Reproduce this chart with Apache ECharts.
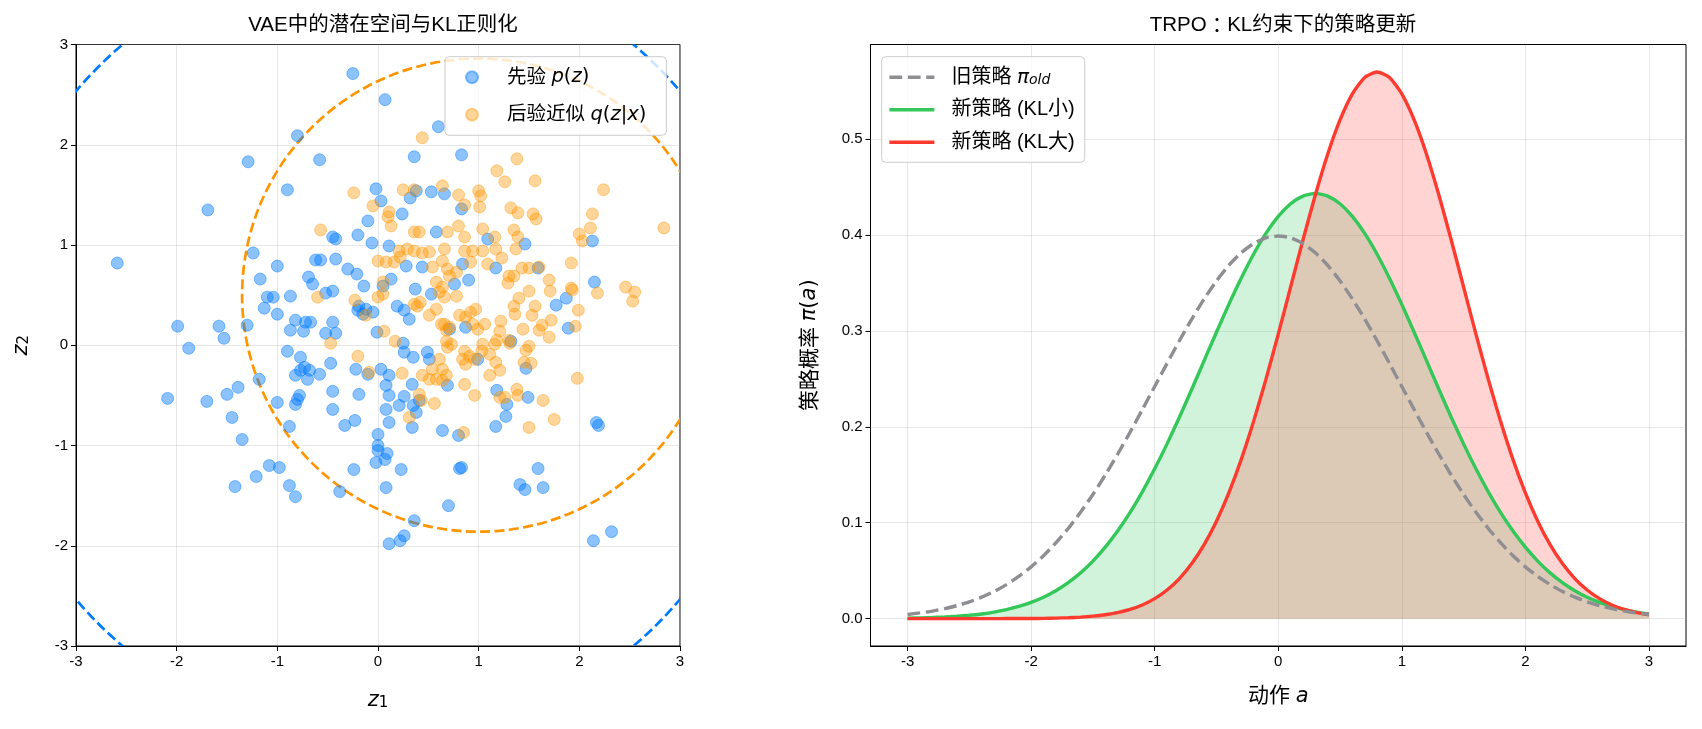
<!DOCTYPE html>
<html><head><meta charset="utf-8">
<script src="https://cdn.jsdelivr.net/npm/echarts@6/dist/echarts.min.js"></script>
<style>html,body{margin:0;padding:0;background:#fff}#c{width:1702px;height:729px}</style>
</head><body><div id="c"></div>
<script>
// ---------- data ----------
const priorPoints = [
[-1.29,1.83],[-1.69,1.35],[-0.25,2.71],[0.07,2.45],[-0.80,2.09],[0.60,2.18],[-0.58,1.85],[0.36,1.88],[0.83,1.90],
[-0.90,1.55],[-0.02,1.56],[0.03,1.44],[0.24,1.31],[-0.10,1.24],[-0.45,1.08],[-0.42,1.06],[-0.20,1.10],[-0.06,1.02],
[0.11,0.99],[0.38,1.54],[0.32,1.47],[0.53,1.53],[0.66,1.51],[0.83,1.36],[0.58,1.13],[2.13,1.04],[1.46,1.01],[1.09,1.06],
[-2.59,0.82],[-1.24,0.92],[-1.17,0.66],[-1.10,0.48],[-1.04,0.48],[-1.13,0.37],[-1.00,0.31],[-1.00,0.79],[-1.99,0.19],
[-1.58,0.19],[-1.53,0.07],[-1.30,0.20],[-1.88,-0.03],[-1.18,-0.34],[-1.39,-0.42],[-1.50,-0.49],[-2.09,-0.53],[-1.70,-0.56],
[-1.45,-0.72],[-1.35,-0.94],[-1.00,-0.57],[-1.08,-1.20],[-1.21,-1.31],[-1.42,-1.41],[-0.98,-1.22],[-0.88,-1.40],[-0.82,-1.51],
[-0.24,-1.24],[-0.38,-1.46],[-0.02,-1.17],[0.07,-1.14],[0.00,-1.05],[0.09,-1.08],[0.00,-1.00],[0.23,-1.24],[0.08,-1.42],
[0.83,-1.22],[0.81,-1.23],[0.70,-1.60],[0.36,-1.75],[0.26,-1.90],[0.22,-1.95],[0.11,-1.98],[1.59,-1.23],[1.41,-1.39],
[1.46,-1.44],[1.64,-1.42],[2.14,-1.95],[2.32,-1.86],[1.17,0.77],[1.59,0.77],[2.15,0.63],[1.87,0.47],[1.77,0.40],[1.89,0.17],
[1.32,0.04],[1.47,-0.23],[0.99,-0.14],[1.18,-0.45],[1.49,-0.52],[1.28,-0.59],[1.27,-0.71],[1.17,-0.81],[2.17,-0.77],[2.19,-0.80],
[-0.62,0.85],[-0.57,0.85],[-0.42,0.86],[-0.30,0.76],[-0.21,0.71],[-0.69,0.68],[-0.65,0.61],[-0.14,0.59],[0.13,0.66],
[0.05,0.59],[0.37,0.56],[-0.52,0.52],[-0.45,0.54],[-0.87,0.49],[0.53,0.51],[-0.19,0.39],[-0.12,0.36],[-0.20,0.35],
[-0.15,0.31],[-0.05,0.33],[0.19,0.39],[0.26,0.35],[0.31,0.26],[-0.82,0.25],[-0.72,0.23],[-0.67,0.23],[-0.87,0.15],
[-0.74,0.14],[-0.45,0.23],[-0.52,0.12],[-0.42,0.12],[-0.01,0.13],[0.25,0.02],[0.26,-0.07],[0.35,-0.12],[-0.90,-0.06],
[-0.77,-0.12],[0.49,-0.07],[0.51,-0.14],[-0.82,-0.30],[-0.77,-0.25],[-0.68,-0.25],[-0.58,-0.29],[-0.70,-0.34],[-0.73,-0.22],
[-0.47,-0.18],[-0.22,-0.24],[-0.10,-0.29],[0.03,-0.24],[0.11,-0.30],[0.08,-0.40],[0.11,-0.50],[0.34,-0.39],[0.69,-0.40],
[-0.45,-0.46],[-0.19,-0.49],[-0.78,-0.50],[-0.82,-0.59],[-0.80,-0.54],[-0.45,-0.64],[0.08,-0.64],[0.11,-0.77],[0.21,-0.60],
[0.26,-0.51],[0.35,-0.60],[0.38,-0.67],[0.41,-0.55],[-0.33,-0.80],[-0.23,-0.75],[-0.88,-0.81],[0.00,-0.89],[0.34,-0.82],
[0.64,-0.85],[0.80,-0.90],[0.84,0.81],[0.76,0.61],[0.90,0.65],[0.28,0.79],[0.44,0.78],[0.71,0.16],[0.87,0.18]
];
const posteriorPoints = [
[0.44,2.07],[-0.24,1.52],[-0.05,1.39],[0.11,1.33],[0.10,1.28],[0.13,1.19],[-0.57,1.15],[0.25,1.55],[0.36,1.55],
[0.64,1.59],[0.80,1.50],[0.86,1.40],[0.36,1.13],[0.41,1.13],[0.69,1.13],[0.80,1.19],[0.86,1.08],
[1.38,1.86],[1.18,1.74],[1.26,1.63],[1.56,1.64],[2.24,1.55],[1.00,1.54],[1.02,1.49],[1.01,1.38],[1.32,1.37],[1.39,1.32],
[1.54,1.31],[1.57,1.26],[2.13,1.31],[2.11,1.17],[2.84,1.17],[1.35,1.15],[1.39,1.08],[1.04,1.16],[1.16,1.08],[2.00,1.11],[2.03,1.04],
[1.37,0.96],[1.17,0.96],[1.23,0.87],[1.04,0.94],[1.09,0.81],[1.43,0.77],[1.50,0.77],[1.60,0.78],[1.92,0.82],[1.30,0.69],
[1.35,0.69],[1.29,0.62],[1.70,0.65],[1.71,0.54],[1.92,0.57],[1.93,0.55],[2.18,0.52],[2.46,0.58],[2.55,0.53],[2.53,0.44],
[1.40,0.47],[1.50,0.54],[1.35,0.39],[1.36,0.31],[1.56,0.39],[1.53,0.30],[1.99,0.35],[1.72,0.25],[1.63,0.20],[1.60,0.15],
[1.70,0.08],[1.96,0.19],[1.44,0.16],[1.22,0.24],[1.21,0.14],[1.06,0.21],[0.99,0.16],[1.18,0.05],[1.30,0.05],[1.31,0.02],
[1.16,0.01],[1.04,0.01],[1.11,-0.09],[1.03,-0.06],[1.50,-0.01],[1.47,-0.05],[1.45,-0.17],[1.52,-0.18],[1.17,-0.17],
[1.21,-0.25],[1.11,-0.30],[1.98,-0.33],[1.21,-0.52],[1.26,-0.52],[1.38,-0.44],[1.39,-0.50],[1.64,-0.55],[1.75,-0.74],
[1.50,-0.82],[0.96,-0.50],
[0.21,0.94],[0.29,0.96],[0.36,0.94],[0.44,0.92],[0.51,0.93],[0.66,0.96],[0.86,0.94],[0.94,0.94],[0.00,0.84],[0.08,0.83],
[0.16,0.83],[0.22,0.88],[0.54,0.78],[0.64,0.84],[0.69,0.76],[0.78,0.73],[0.71,0.69],[0.92,0.83],[0.05,0.63],[0.00,0.48],
[0.05,0.51],[-0.60,0.48],[-0.23,0.45],[-0.12,0.30],[0.58,0.63],[0.64,0.58],[0.61,0.53],[0.66,0.48],[0.78,0.49],[0.36,0.41],
[0.39,0.39],[0.42,0.43],[0.51,0.30],[0.58,0.36],[0.63,0.21],[0.68,0.15],[0.71,0.18],[0.66,0.21],[0.81,0.30],[0.87,0.28],
[0.92,0.33],[0.97,0.36],[0.94,0.21],[0.06,0.14],[-0.47,0.02],[0.17,0.04],[0.68,0.04],[0.69,-0.02],[0.73,0.01],[-0.20,-0.11],
[0.86,-0.06],[0.91,-0.11],[0.84,-0.14],[0.96,-0.14],[0.87,-0.19],[0.61,-0.14],[0.64,-0.24],[0.54,-0.24],[0.68,-0.30],
[0.44,-0.30],[0.51,-0.34],[0.58,-0.34],[0.64,-0.35],[-0.09,-0.27],[0.24,-0.28],[0.86,-0.39],[0.41,-0.49],[0.43,-0.55],
[0.56,-0.58],[0.31,-0.72],[0.85,-0.87]
];
// dashed reference circles: [centre z1, centre z2, radius]
const priorCircle = [[0, 0, 3.92]];
const posteriorCircle = [[1.0, 0.5, 2.35]];
const zTicks = [-3, -2, -1, 0, 1, 2, 3];

const actionA = [-3.0,-2.9,-2.8,-2.7,-2.6,-2.5,-2.4,-2.3,-2.2,-2.1,-2.0,-1.9,-1.8,-1.7,-1.6,-1.5,-1.4,-1.3,-1.2,-1.1,
                 -1.0,-0.9,-0.8,-0.7,-0.6,-0.5,-0.4,-0.3,-0.2,-0.1,0.0,0.1,0.2,0.3,0.4,0.5,0.6,0.7,0.8,0.9,
                 1.0,1.1,1.2,1.3,1.4,1.5,1.6,1.7,1.8,1.9,2.0,2.1,2.2,2.3,2.4,2.5,2.6,2.7,2.8,2.9,3.0];
const piOld   = [0.0044,0.0060,0.0079,0.0104,0.0136,0.0175,0.0224,0.0283,0.0355,0.0440,0.0540,0.0656,0.0790,0.0940,0.1109,
                 0.1295,0.1497,0.1714,0.1942,0.2179,0.2420,0.2661,0.2897,0.3123,0.3332,0.3521,0.3683,0.3814,0.3910,0.3970,
                 0.3989,0.3970,0.3910,0.3814,0.3683,0.3521,0.3332,0.3123,0.2897,0.2661,0.2420,0.2179,0.1942,0.1714,0.1497,
                 0.1295,0.1109,0.0940,0.0790,0.0656,0.0540,0.0440,0.0355,0.0283,0.0224,0.0175,0.0136,0.0104,0.0079,0.0060,0.0044];
const piSmall = [0.0005,0.0008,0.0012,0.0017,0.0025,0.0035,0.0049,0.0068,0.0094,0.0127,0.0169,0.0223,0.0291,0.0375,0.0477,
                 0.0600,0.0745,0.0913,0.1105,0.1322,0.1562,0.1822,0.2100,0.2391,0.2689,0.2986,0.3276,0.3549,0.3799,0.4016,
                 0.4193,0.4325,0.4405,0.4433,0.4405,0.4325,0.4193,0.4016,0.3799,0.3549,0.3276,0.2986,0.2689,0.2391,0.2100,
                 0.1822,0.1562,0.1322,0.1105,0.0913,0.0745,0.0600,0.0477,0.0375,0.0291,0.0223,0.0169,0.0127,0.0094,0.0068,0.0049];
const piLarge = [0.0000,0.0000,0.0000,0.0000,0.0000,0.0000,0.0000,0.0000,0.0001,0.0001,0.0002,0.0003,0.0006,0.0010,0.0016,
                 0.0026,0.0041,0.0063,0.0096,0.0143,0.0209,0.0299,0.0418,0.0574,0.0771,0.1016,0.1311,0.1658,0.2054,0.2494,
                 0.2966,0.3457,0.3947,0.4416,0.4841,0.5199,0.5471,0.5641,0.5699,0.5641,0.5471,0.5199,0.4841,0.4416,0.3947,
                 0.3457,0.2966,0.2494,0.2054,0.1658,0.1311,0.1016,0.0771,0.0574,0.0418,0.0299,0.0209,0.0143,0.0096,0.0063,0.0041];
const aTicks = [-3, -2, -1, 0, 1, 2, 3];
const piTicks = [0, 0.1, 0.2, 0.3, 0.4, 0.5];

// ---------- style ----------
const FONT = "'Liberation Sans', 'Noto Sans CJK SC', sans-serif";
const MATH = "'DejaVu Sans', sans-serif";
const BLUE = '#007AFF', ORANGE = '#FF9500', GREEN = '#34C759', RED = '#FF3B30', GRAY = '#8E8E93';
const TICK = 15, LABEL = 21, TITLE = 20.5, LEG = 19.5;
function rich(size) {
  return {
    i: {fontStyle: 'italic', fontFamily: MATH, fontSize: size},
    m: {fontFamily: MATH, fontSize: size},
    sub: {fontStyle: 'italic', fontFamily: MATH, fontSize: Math.round(size * 0.68), verticalAlign: 'bottom', lineHeight: 8},
    subn: {fontFamily: MATH, fontSize: Math.round(size * 0.7), verticalAlign: 'bottom', lineHeight: 8},
    jp: {fontFamily: "'Noto Sans CJK JP'", fontSize: size}
  };
}
function axisCommon() {
  return {
    axisLine: {show: true, onZero: false, lineStyle: {color: '#000', width: 1}},
    axisTick: {show: true, length: 5, lineStyle: {color: '#000', width: 1}},
    axisLabel: {color: '#000', fontSize: TICK, fontFamily: FONT, margin: 8},
    splitLine: {show: true, lineStyle: {color: 'rgba(176,176,176,0.3)', width: 1}},
    nameLocation: 'middle',
    nameTextStyle: {color: '#000', fontSize: LABEL, fontFamily: FONT, rich: rich(LABEL)}
  };
}
function circleRender(color) {
  return function (params, api) {
    const c = api.coord([api.value(0), api.value(1)]);
    const s = api.size([api.value(2), api.value(2)]);
    const cs = params.coordSys;
    return {
      type: 'circle',
      shape: {cx: c[0], cy: c[1], r: s[0]},
      style: {fill: null, stroke: color, lineWidth: 2.7, lineDash: [10, 4.4]},
      clipPath: {type: 'rect', shape: {x: cs.x, y: cs.y, width: cs.width, height: cs.height}}
    };
  };
}
const pairs = (xs, ys) => xs.map((x, i) => [x, ys[i]]);

const chart = echarts.init(document.getElementById('c'), null, {renderer: 'canvas'});
chart.setOption({
  animation: false,
  backgroundColor: '#fff',
  textStyle: {fontFamily: FONT},
  title: [
    {text: 'VAE中的潜在空间与KL正则化', left: 378, top: 10, textAlign: 'center',
     textStyle: {fontSize: TITLE, fontWeight: 'normal', color: '#000', fontFamily: FONT}},
    {text: 'TRPO{jp|：}KL约束下的策略更新', left: 1278, top: 10, textAlign: 'center',
     textStyle: {fontSize: TITLE, fontWeight: 'normal', color: '#000', fontFamily: FONT, rich: rich(TITLE)}}
  ],
  grid: [
    {left: 76, top: 44.5, width: 604, height: 601.5, show: true, borderColor: '#000', borderWidth: 1, backgroundColor: 'transparent'},
    {left: 870.5, top: 44.5, width: 815.5, height: 601.5, show: true, borderColor: '#000', borderWidth: 1, backgroundColor: 'transparent'}
  ],
  xAxis: [
    Object.assign(axisCommon(), {type: 'value', gridIndex: 0, min: -3, max: 3, interval: 1,
      name: '{i|z}{subn|1}', nameGap: 44}),
    Object.assign(axisCommon(), {type: 'value', gridIndex: 1, min: -3.3, max: 3.3,
      axisTick: {show: true, length: 5, lineStyle: {color: '#000'}, customValues: aTicks},
      axisLabel: {color: '#000', fontSize: TICK, fontFamily: FONT, margin: 8, customValues: aTicks},
      name: '动作 {i|a}', nameGap: 40})
  ],
  yAxis: [
    Object.assign(axisCommon(), {type: 'value', gridIndex: 0, min: -3, max: 3, interval: 1,
      name: '{i|z}{subn|2}', nameGap: 44}),
    Object.assign(axisCommon(), {type: 'value', gridIndex: 1, min: -0.0285, max: 0.5985,
      axisTick: {show: true, length: 5, lineStyle: {color: '#000'}, customValues: piTicks},
      axisLabel: {color: '#000', fontSize: TICK, fontFamily: FONT, margin: 8, customValues: piTicks,
        formatter: v => v.toFixed(1)},
      name: '策略概率 {i|π}{m|(}{i|a}{m|)}', nameGap: 50})
  ],
  legend: [
    {
      data: ['先验 p(z)', '后验近似 q(z|x)'],
      orient: 'vertical', left: 445, top: 56.7,
      padding: [10.6, 20, 10.6, 20], itemWidth: 12, itemHeight: 12, itemGap: 17.4,
      backgroundColor: 'rgba(255,255,255,0.8)', borderColor: '#cccccc', borderWidth: 1, borderRadius: 4,
      selectedMode: false,
      formatter: n => n === '先验 p(z)' ? '先验 {i|p}{m|(}{i|z}{m|)}' : '后验近似 {i|q}{m|(}{i|z}{m||}{i|x}{m|)}',
      textStyle: {fontSize: LEG, lineHeight: 20, color: '#000', fontFamily: FONT, padding: [0, 0, 0, 24], rich: rich(LEG)}
    },
    {
      data: ['旧策略', '新策略 (KL小)', '新策略 (KL大)'],
      orient: 'vertical', left: 881.7, top: 56.7,
      padding: [10.6, 10, 10, 6], itemWidth: 45, itemHeight: 14, itemGap: 12.5,
      backgroundColor: 'rgba(255,255,255,0.8)', borderColor: '#cccccc', borderWidth: 1, borderRadius: 4,
      selectedMode: false,
      itemStyle: {opacity: 0},
      lineStyle: {width: 3.4},
      formatter: n => n === '旧策略' ? '旧策略 {i|π}{sub|old}' : n,
      textStyle: {fontSize: 20, lineHeight: 20, color: '#000', fontFamily: FONT, padding: [0, 0, 0, 12], rich: rich(20)}
    }
  ],
  series: [
    {type: 'custom', name: '_pc', xAxisIndex: 0, yAxisIndex: 0, data: priorCircle, renderItem: circleRender(BLUE),
     encode: {x: 0, y: 1}, silent: true, z: 1},
    {type: 'custom', name: '_qc', xAxisIndex: 0, yAxisIndex: 0, data: posteriorCircle, renderItem: circleRender(ORANGE),
     encode: {x: 0, y: 1}, silent: true, z: 1},
    {type: 'scatter', name: '先验 p(z)', xAxisIndex: 0, yAxisIndex: 0, data: priorPoints, symbolSize: 12, z: 2,
     itemStyle: {color: 'rgba(0,122,255,0.45)', borderColor: 'rgba(0,122,255,0.45)', borderWidth: 1, opacity: 1}},
    {type: 'scatter', name: '后验近似 q(z|x)', xAxisIndex: 0, yAxisIndex: 0, data: posteriorPoints, symbolSize: 12, z: 2,
     itemStyle: {color: 'rgba(255,149,0,0.4)', borderColor: 'rgba(255,149,0,0.4)', borderWidth: 1, opacity: 1}},

    {type: 'line', name: '_areaSmall', xAxisIndex: 1, yAxisIndex: 1, data: pairs(actionA, piSmall), smooth: 0.2,
     symbol: 'none', lineStyle: {width: 0}, areaStyle: {color: GREEN, opacity: 0.22}, silent: true, z: 1},
    {type: 'line', name: '_areaLarge', xAxisIndex: 1, yAxisIndex: 1, data: pairs(actionA, piLarge), smooth: 0.2,
     symbol: 'none', lineStyle: {width: 0}, areaStyle: {color: RED, opacity: 0.22}, silent: true, z: 1},
    {type: 'line', name: '新策略 (KL小)', xAxisIndex: 1, yAxisIndex: 1, data: pairs(actionA, piSmall), smooth: 0.2,
     symbol: 'none', itemStyle: {color: GREEN}, lineStyle: {color: GREEN, width: 3.4}, z: 3},
    {type: 'line', name: '新策略 (KL大)', xAxisIndex: 1, yAxisIndex: 1, data: pairs(actionA, piLarge), smooth: 0.2,
     symbol: 'none', itemStyle: {color: RED}, lineStyle: {color: RED, width: 3.4}, z: 3},
    {type: 'line', name: '旧策略', xAxisIndex: 1, yAxisIndex: 1, data: pairs(actionA, piOld), smooth: 0.2,
     symbol: 'none', itemStyle: {color: GRAY}, lineStyle: {color: GRAY, width: 3.4, type: [12.8, 5.6]}, z: 4}
  ]
});
</script></body></html>
